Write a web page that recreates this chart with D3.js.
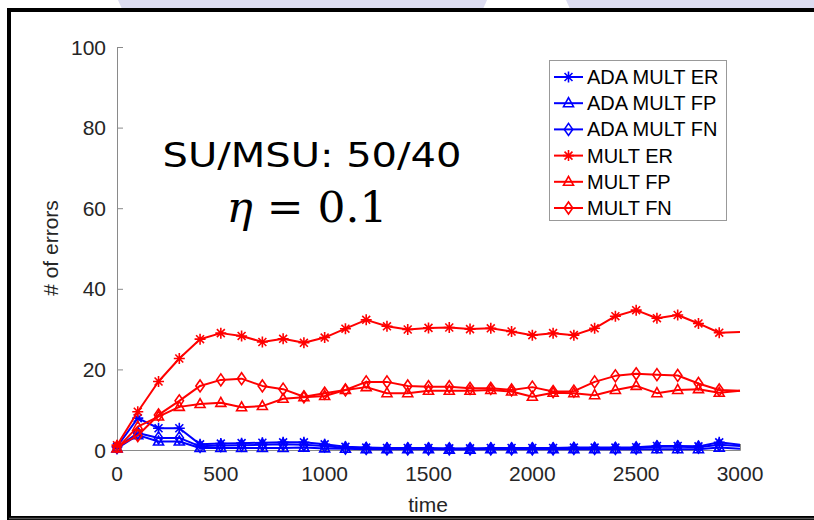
<!DOCTYPE html>
<html><head><meta charset="utf-8">
<script src="https://cdn.jsdelivr.net/npm/d3@7/dist/d3.min.js"></script>
<style>html,body{margin:0;padding:0;background:#fff;}svg{display:block;}</style>
</head><body>
<svg id="c" width="814" height="520"></svg>
<script>
const times = [0,100,200,300,400,500,600,700,800,900,1000,1100,1200,1300,1400,1500,1600,1700,1800,1900,2000,2100,2200,2300,2400,2500,2600,2700,2800,2900,3000];
const adaER = [0.8,7.9,5.4,5.4,1.4,1.6,1.7,1.8,1.9,1.9,1.4,0.8,0.6,0.5,0.5,0.5,0.4,0.4,0.5,0.5,0.5,0.5,0.6,0.6,0.6,0.7,1.0,1.0,0.9,1.9,1.3];
const adaFP = [0.4,3.7,2.1,2.1,0.5,0.5,0.5,0.5,0.5,0.6,0.4,0.3,0.2,0.2,0.2,0.2,0.1,0.1,0.2,0.2,0.2,0.2,0.2,0.2,0.2,0.2,0.2,0.2,0.2,0.6,0.3];
const adaFN = [0.6,4.2,3.0,3.0,0.9,1.1,1.2,1.3,1.4,1.3,1.0,0.5,0.4,0.3,0.3,0.3,0.3,0.3,0.3,0.3,0.3,0.3,0.4,0.4,0.4,0.5,0.8,0.8,0.7,1.3,1.0];
const multER = [1.2,9.5,17,22.7,27.5,29,28.3,26.8,27.6,26.6,27.9,30.1,32.3,30.7,29.9,30.3,30.4,30,30.2,29.4,28.5,29,28.5,30.2,33.2,34.7,32.7,33.5,31.4,29.1,29.3];
const multFP = [0.4,5.8,8.3,10.7,11.4,11.7,10.6,10.9,12.7,13.1,13.4,14.9,15.6,14.1,14.1,14.7,14.7,14.7,14.9,14.5,13.2,14.2,14.1,13.6,14.9,15.9,14.1,14.9,15.1,14.2,14.7];
const multFN = [0.8,3.6,8.7,12.2,15.9,17.4,17.7,15.9,15.1,13.2,14.1,14.9,16.9,16.9,15.9,15.7,15.7,15.3,15.3,14.9,15.6,14.5,14.6,16.9,18.4,18.9,18.7,18.5,16.5,14.9,14.7];
const seriesNames = ["ADA MULT ER","ADA MULT FP","ADA MULT FN","MULT ER","MULT FP","MULT FN"];
const xTicks = [0,500,1000,1500,2000,2500,3000];
const yTicks = [0,20,40,60,80,100];

const series = [
  {name: seriesNames[0], values: adaER, color: "#0000ff", marker: "star"},
  {name: seriesNames[1], values: adaFP, color: "#0000ff", marker: "tri"},
  {name: seriesNames[2], values: adaFN, color: "#0000ff", marker: "dia"},
  {name: seriesNames[3], values: multER, color: "#ff0000", marker: "star"},
  {name: seriesNames[4], values: multFP, color: "#ff0000", marker: "tri"},
  {name: seriesNames[5], values: multFN, color: "#ff0000", marker: "dia"}
];

const svg = d3.select("#c");

// slide decoration
svg.append("path").attr("d","M118,0 L487,0 L483,9 L122,9 Z").attr("fill","#dcdcf0");
svg.append("path").attr("d","M566,0 L814,0 L814,9 L570,9 Z").attr("fill","#dcdcf0");
svg.append("rect").attr("x",9).attr("y",10).attr("width",830).attr("height",508)
  .attr("fill","#fff").attr("stroke","#000").attr("stroke-width",4);
svg.append("line").attr("x1",9).attr("x2",814).attr("y1",518.5).attr("y2",518.5).attr("stroke","#555").attr("stroke-width",1.5);

const x = d3.scaleLinear().domain([0,3000]).range([117,740]);
const y = d3.scaleLinear().domain([0,100]).range([450,47]);

const axisColor = "#8a8a8a", labelColor = "#262626";
const font = "Liberation Sans, Arial, sans-serif";

const gx = svg.append("g").attr("transform","translate(0,450)")
  .call(d3.axisTop(x).tickValues(xTicks).tickSize(6).tickFormat(""));
const gy = svg.append("g").attr("transform","translate(117,0)")
  .call(d3.axisRight(y).tickValues(yTicks).tickSize(6).tickFormat(""));
[gx,gy].forEach(g=>{
  g.selectAll("path").attr("stroke",axisColor).attr("stroke-width",1);
  g.selectAll("line").attr("stroke",axisColor).attr("stroke-width",1);
});
// tick labels
svg.append("g").selectAll("text").data(xTicks).join("text")
  .attr("x",d=>x(d)).attr("y",481).attr("text-anchor","middle")
  .attr("font-family",font).attr("font-size",21).attr("fill",labelColor).text(d=>d);
svg.append("g").selectAll("text").data(yTicks).join("text")
  .attr("x",106).attr("y",d=>y(d)+7.5).attr("text-anchor","end")
  .attr("font-family",font).attr("font-size",21).attr("fill",labelColor).text(d=>d);

svg.append("text").attr("x",428).attr("y",512).attr("text-anchor","middle")
  .attr("font-family",font).attr("font-size",21).attr("fill",labelColor).text("time");
svg.append("text").attr("transform","translate(58,248) rotate(-90)").attr("text-anchor","middle")
  .attr("font-family",font).attr("font-size",21).attr("fill",labelColor).text("# of errors");

function markerPath(type){
  if(type==="star"){
    const r=5.5, a=r*0.72;
    return `M${-r},0L${r},0M0,${-r}L0,${r}M${-a},${-a}L${a},${a}M${-a},${a}L${a},${-a}`;
  }
  if(type==="tri"){
    return "M0,-5.5L5,3.5L-5,3.5Z";
  }
  return "M0,-6L4.2,0L0,6L-4.2,0Z";
}

const line = d3.line().x((d,i)=>x(times[i])).y(d=>y(d));
series.forEach(s=>{
  const g = svg.append("g");
  g.append("path").attr("d",line(s.values)).attr("fill","none")
    .attr("stroke",s.color).attr("stroke-width",2).attr("stroke-linejoin","round");
  g.selectAll("path.m").data(s.values.filter((d,i)=>times[i]<3000)).join("path")
    .attr("class","m")
    .attr("transform",(d,i)=>`translate(${x(times[i])},${y(d)})`)
    .attr("d",markerPath(s.marker)).attr("fill","none")
    .attr("stroke",s.color).attr("stroke-width",1.6);
});

// legend
const lg = svg.append("g");
lg.append("rect").attr("x",549.5).attr("y",60.5).attr("width",177).attr("height",160)
  .attr("fill","#fff").attr("stroke","#999").attr("stroke-width",1);
series.forEach((s,i)=>{
  const yy = 77 + i*26.2;
  lg.append("line").attr("x1",554).attr("x2",583).attr("y1",yy).attr("y2",yy)
    .attr("stroke",s.color).attr("stroke-width",2);
  lg.append("path").attr("transform",`translate(568.5,${yy})`).attr("d",markerPath(s.marker))
    .attr("fill","none").attr("stroke",s.color).attr("stroke-width",1.6);
  lg.append("text").attr("x",587).attr("y",yy+7).attr("font-family",font).attr("font-size",20)
    .attr("fill","#000").text(s.name);
});

// annotations
svg.append("text").attr("x",312).attr("y",167).attr("text-anchor","middle")
  .attr("font-family","DejaVu Sans, sans-serif").attr("font-size",33)
  .attr("textLength",299).attr("lengthAdjust","spacingAndGlyphs")
  .attr("fill","#000").text("SU/MSU: 50/40");
const eta = svg.append("text").attr("x",307).attr("y",222).attr("text-anchor","middle")
  .attr("font-family","DejaVu Serif, Liberation Serif, serif").attr("font-size",42)
  .attr("textLength",161).attr("lengthAdjust","spacingAndGlyphs").attr("fill","#000");
eta.append("tspan").attr("font-style","italic").text("η");
eta.append("tspan").text(" = 0.1");
</script>
</body></html>
